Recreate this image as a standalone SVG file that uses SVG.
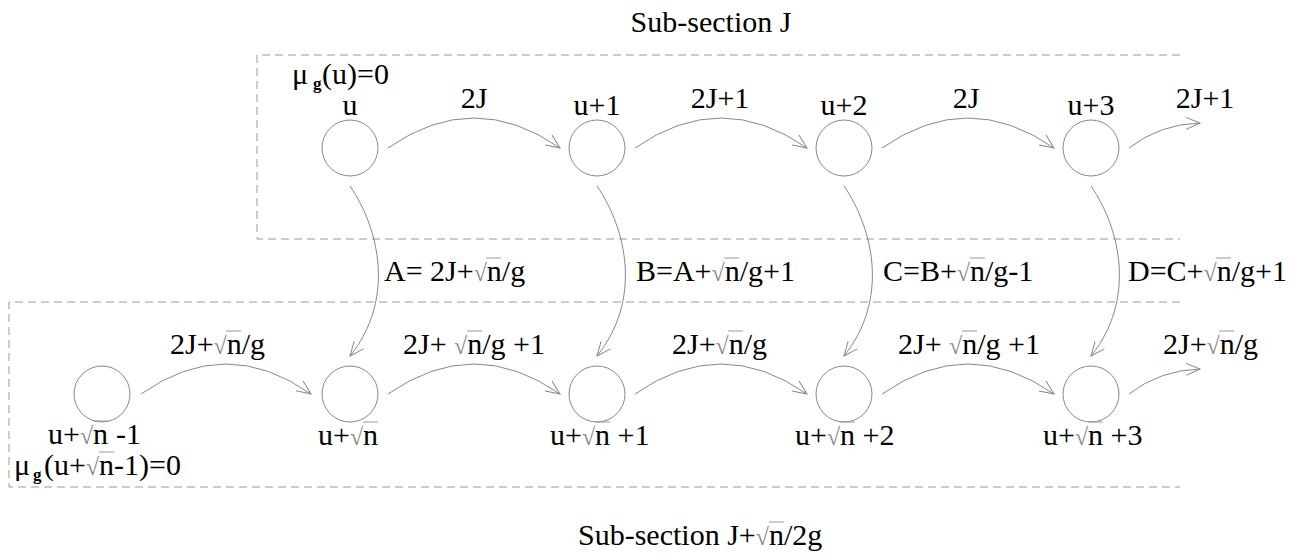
<svg xmlns="http://www.w3.org/2000/svg" width="1299" height="560" viewBox="0 0 1299 560">
<style>
text{font-family:'Liberation Serif','Times New Roman',serif;font-size:30px;fill:#000}
.m{text-anchor:middle}
.r{fill:#888;font-size:24px}
.sub{font-size:17px;font-weight:bold}
.ov{stroke:#999;stroke-width:1}
.node{fill:none;stroke:#888;stroke-width:1}
.edge{fill:none;stroke:#888;stroke-width:1;marker-end:url(#arr)}
.box{fill:none;stroke:#999;stroke-width:1;stroke-dasharray:8 5}
</style>
<defs>
<marker id="arr" markerUnits="userSpaceOnUse" markerWidth="18" markerHeight="16" viewBox="-16 -8 18 16" refX="0" refY="0" orient="auto">
<path d="M-14,-6 L0,0 L-14,6" fill="none" stroke="#888" stroke-width="1"/>
</marker>
</defs>
<g id="sections">
<path class="box" d="M1180,55 H257 V239 H1180"/>
<path class="box" d="M1180,302 H9 V487 H1180"/>
<text class="m" x="711" y="32">Sub-section J</text>
<text x="578" y="545">Sub-section J+<tspan class="r">√</tspan>n/2g</text>
<line class="ov" x1="769" y1="522" x2="784" y2="522"/>
</g>
<g id="connectors">
<path class="edge" d="M388,148 Q474,88 560,148"/>
<path class="edge" d="M635,148 Q721,88 807,148"/>
<path class="edge" d="M882,148 Q968,88 1054,148"/>
<path class="edge" d="M1129,148 Q1160,124 1200,123"/>
<path class="edge" d="M141,394 Q226,334 311,394"/>
<path class="edge" d="M388,394 Q474,334 560,394"/>
<path class="edge" d="M635,394 Q721,334 807,394"/>
<path class="edge" d="M882,394 Q968,334 1054,394"/>
<path class="edge" d="M1129,394 Q1160,370 1200,369"/>
<path class="edge" d="M350,186 C380,230 395,300 350,356"/>
<path class="edge" d="M597,186 C627,230 642,300 597,356"/>
<path class="edge" d="M844,186 C874,230 889,300 844,356"/>
<path class="edge" d="M1091,186 C1121,230 1136,300 1091,356"/>
<text class="m" x="474" y="108">2J</text>
<text class="m" x="720" y="108">2J+1</text>
<text class="m" x="966" y="108">2J</text>
<text class="m" x="1205" y="108">2J+1</text>
<text x="384" y="281">A= 2J+<tspan class="r">√</tspan>n/g</text>
<line class="ov" x1="486" y1="258" x2="501" y2="258"/>
<text x="636" y="281">B=A+<tspan class="r">√</tspan>n/g+1</text>
<line class="ov" x1="724" y1="258" x2="739" y2="258"/>
<text x="883" y="281">C=B+<tspan class="r">√</tspan>n/g-1</text>
<line class="ov" x1="970" y1="258" x2="985" y2="258"/>
<text x="1128" y="281">D=C+<tspan class="r">√</tspan>n/g+1</text>
<line class="ov" x1="1216" y1="258" x2="1231" y2="258"/>
<text x="170" y="354">2J+<tspan class="r">√</tspan>n/g</text>
<line class="ov" x1="226" y1="331" x2="241" y2="331"/>
<text x="403" y="354">2J+ <tspan class="r">√</tspan>n/g +1</text>
<line class="ov" x1="467" y1="331" x2="482" y2="331"/>
<text x="672" y="354">2J+<tspan class="r">√</tspan>n/g</text>
<line class="ov" x1="728" y1="331" x2="743" y2="331"/>
<text x="898" y="354">2J+ <tspan class="r">√</tspan>n/g +1</text>
<line class="ov" x1="962" y1="331" x2="977" y2="331"/>
<text x="1163" y="354">2J+<tspan class="r">√</tspan>n/g</text>
<line class="ov" x1="1219" y1="331" x2="1234" y2="331"/>
</g>
<g id="n-u">
<circle class="node" cx="350" cy="148" r="28"/>
<text class="m" x="350" y="115">u</text>
<text x="292" y="84">μ<tspan class="sub" dx="5" dy="5">g</tspan><tspan x="322" dy="-5">(u)=0</tspan></text>
</g>
<g id="n-u1">
<circle class="node" cx="597" cy="148" r="28"/>
<text class="m" x="597" y="115">u+1</text>
</g>
<g id="n-u2">
<circle class="node" cx="844" cy="148" r="28"/>
<text class="m" x="844" y="115">u+2</text>
</g>
<g id="n-u3">
<circle class="node" cx="1091" cy="148" r="28"/>
<text class="m" x="1091" y="115">u+3</text>
</g>
<g id="n-usm1">
<circle class="node" cx="102" cy="394" r="28"/>
<text x="48" y="444">u+<tspan class="r">√</tspan>n<tspan dx="8">-1</tspan></text>
<line class="ov" x1="93" y1="421" x2="108" y2="421"/>
<text x="14" y="475">μ<tspan class="sub" dx="3" dy="5">g</tspan><tspan x="44" dy="-5">(u+</tspan><tspan class="r">√</tspan>n-1)=0</text>
<line class="ov" x1="99" y1="452" x2="114" y2="452"/>
</g>
<g id="n-us">
<circle class="node" cx="350" cy="394" r="28"/>
<text x="318" y="445">u+<tspan class="r">√</tspan>n</text>
<line class="ov" x1="363" y1="422" x2="378" y2="422"/>
</g>
<g id="n-us1">
<circle class="node" cx="597" cy="394" r="28"/>
<text x="550" y="445">u+<tspan class="r">√</tspan>n +1</text>
<line class="ov" x1="595" y1="422" x2="610" y2="422"/>
</g>
<g id="n-us2">
<circle class="node" cx="844" cy="394" r="28"/>
<text x="795" y="445">u+<tspan class="r">√</tspan>n +2</text>
<line class="ov" x1="840" y1="422" x2="855" y2="422"/>
</g>
<g id="n-us3">
<circle class="node" cx="1091" cy="394" r="28"/>
<text x="1043" y="445">u+<tspan class="r">√</tspan>n +3</text>
<line class="ov" x1="1088" y1="422" x2="1103" y2="422"/>
</g>
</svg>
